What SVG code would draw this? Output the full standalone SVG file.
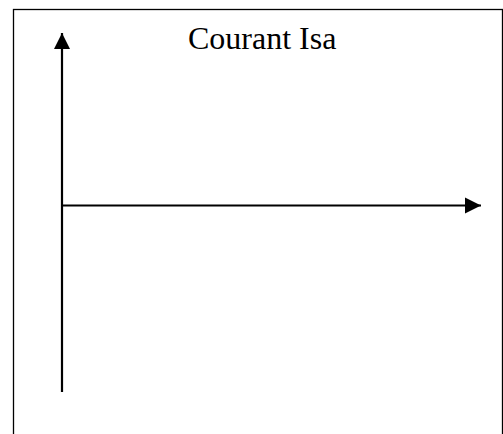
<svg xmlns="http://www.w3.org/2000/svg" width="503" height="434" viewBox="0 0 503 434">
<style>
.frame{fill:none;stroke:#000;stroke-width:1.3}
.axis{fill:none;stroke:#000;stroke-width:2.2}
.label{font-family:"Liberation Serif","Times New Roman",serif;font-size:32px;fill:#000}
</style>
<defs>
<marker id="arr" markerUnits="userSpaceOnUse" markerWidth="17" markerHeight="17" viewBox="0 0 17 17" refX="16" refY="8.5" orient="auto">
<path d="M0,0.5 L16,8.5 L0,16.5 Z" fill="#000"/>
</marker>
</defs>
<rect class="frame" x="13.5" y="9.5" width="489" height="430"/>
<g id="connectors">
<line class="axis" x1="62" y1="392" x2="62" y2="33" marker-end="url(#arr)"/>
<line class="axis" x1="62" y1="205.5" x2="481" y2="205.5" marker-end="url(#arr)"/>
</g>
<g id="title">
<text class="label" x="188" y="49">Courant Isa</text>
</g>
</svg>
